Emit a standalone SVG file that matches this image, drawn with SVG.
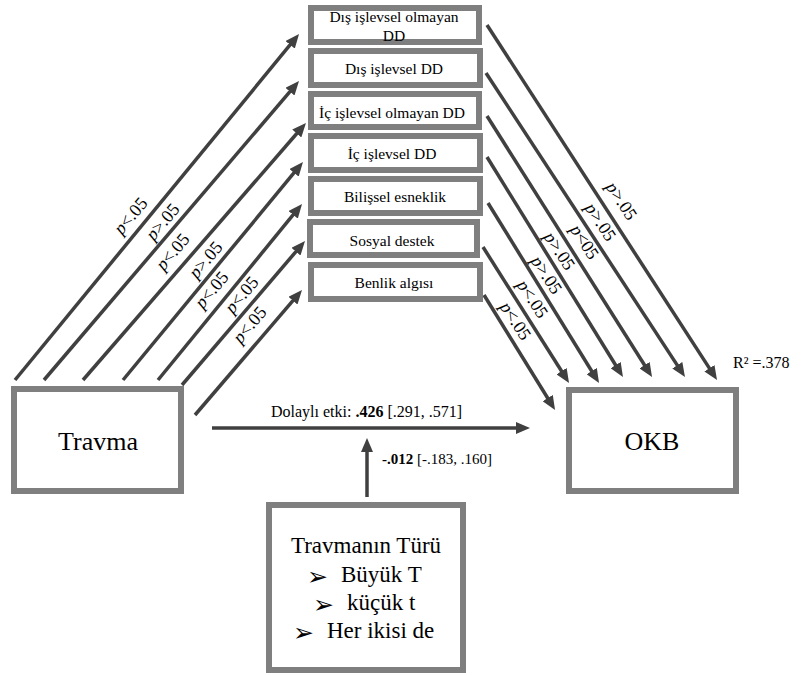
<svg xmlns="http://www.w3.org/2000/svg" width="801" height="675" viewBox="0 0 801 675">
<style>
.box{fill:#fff;stroke:#7f7f7f;stroke-width:6}
.ln{stroke:#404040;stroke-width:3.5;fill:none;marker-end:url(#ah)}
.t{font-family:"Liberation Serif","Times New Roman",serif;fill:#000}
.m{font-size:15.5px;text-anchor:middle}
.lab{font-size:18px;text-anchor:middle}
.big{font-size:26px;text-anchor:middle}
.b{font-weight:bold}
.bul{font-family:"DejaVu Sans",sans-serif;font-size:25px;fill:#000}
</style>
<defs>
<marker id="ah" markerUnits="userSpaceOnUse" markerWidth="14" markerHeight="12" refX="4" refY="6" orient="auto">
<path d="M0,0 L14,6 L0,12 z" fill="#404040"/>
</marker>
</defs>
<rect width="801" height="675" fill="#fff"/>

<g id="connectors">
<line class="ln" x1="15" y1="380" x2="292.7" y2="41.7"/>
<line class="ln" x1="44" y1="380" x2="292.5" y2="88.6"/>
<line class="ln" x1="83" y1="380" x2="299.4" y2="130.5"/>
<line class="ln" x1="123" y1="380" x2="296.6" y2="169.7"/>
<line class="ln" x1="158" y1="380" x2="295.7" y2="211.7"/>
<line class="ln" x1="182" y1="385" x2="298.5" y2="248.6"/>
<line class="ln" x1="195" y1="415" x2="295.5" y2="297.6"/>

<line class="ln" x1="487" y1="25" x2="711.6" y2="371.6"/>
<line class="ln" x1="486" y1="73" x2="679.5" y2="368.6"/>
<line class="ln" x1="487" y1="116" x2="646.7" y2="368.5"/>
<line class="ln" x1="487" y1="157" x2="617.7" y2="368.5"/>
<line class="ln" x1="488" y1="203" x2="593.8" y2="374.5"/>
<line class="ln" x1="483" y1="247" x2="563.7" y2="374.5"/>
<line class="ln" x1="484" y1="295" x2="549.8" y2="401.5"/>

<line class="ln" x1="212" y1="428" x2="520" y2="428"/>
<line class="ln" x1="367" y1="497" x2="367" y2="448"/>

<g class="t lab">
<text transform="translate(132,217) rotate(-50)" y="4"><tspan font-style="italic">p</tspan>&lt;.05</text>
<text transform="translate(164,223) rotate(-50)" y="4"><tspan font-style="italic">p</tspan>&gt;.05</text>
<text transform="translate(174,253) rotate(-50)" y="4"><tspan font-style="italic">p</tspan>&lt;.05</text>
<text transform="translate(207,261) rotate(-50)" y="4"><tspan font-style="italic">p</tspan>&gt;.05</text>
<text transform="translate(213,291) rotate(-50)" y="4"><tspan font-style="italic">p</tspan>&lt;.05</text>
<text transform="translate(243,296) rotate(-50)" y="4"><tspan font-style="italic">p</tspan>&lt;.05</text>
<text transform="translate(251,326) rotate(-50)" y="4"><tspan font-style="italic">p</tspan>&lt;.05</text>

<text transform="translate(620,202) rotate(57)" y="4"><tspan font-style="italic">p</tspan>&gt;.05</text>
<text transform="translate(599,223) rotate(57)" y="4"><tspan font-style="italic">p</tspan>&gt;.05</text>
<text transform="translate(583,243) rotate(57)" y="4"><tspan font-style="italic">p</tspan>&lt;05</text>
<text transform="translate(558,252) rotate(57)" y="4"><tspan font-style="italic">p</tspan>&gt;.05</text>
<text transform="translate(545,276) rotate(57)" y="4"><tspan font-style="italic">p</tspan>&gt;.05</text>
<text transform="translate(531,300) rotate(57)" y="4"><tspan font-style="italic">p</tspan>&lt;.05</text>
<text transform="translate(514,322) rotate(57)" y="4"><tspan font-style="italic">p</tspan>&lt;.05</text>
</g>

<text class="t" x="271" y="417" font-size="16">Dolaylı etki: <tspan class="b">.426</tspan> [.291, .571]</text>
<text class="t" x="382" y="464" font-size="15"><tspan class="b">-.012</tspan> [-.183, .160]</text>
<text class="t" x="733" y="368" font-size="16">R² =.378</text>
</g>

<g id="m1">
<rect class="box" x="311" y="8" width="168" height="34"/>
<text class="t m" x="394" y="22">Dış işlevsel olmayan</text>
<text class="t m" x="394" y="40.5">DD</text>
</g>
<g id="m2">
<rect class="box" x="311" y="51" width="169" height="34"/>
<text class="t m" x="394" y="74">Dış işlevsel DD</text>
</g>
<g id="m3">
<rect class="box" x="311" y="94" width="168" height="33"/>
<text class="t m" x="392" y="118">İç işlevsel olmayan DD</text>
</g>
<g id="m4">
<rect class="box" x="311" y="136" width="169" height="34"/>
<text class="t m" x="392" y="159">İç işlevsel DD</text>
</g>
<g id="m5">
<rect class="box" x="311" y="179" width="169" height="34"/>
<text class="t m" x="395" y="202">Bilişsel esneklik</text>
</g>
<g id="m6">
<rect class="box" x="310" y="222" width="167" height="33"/>
<text class="t m" x="392" y="246">Sosyal destek</text>
</g>
<g id="m7">
<rect class="box" x="311" y="265" width="169" height="34"/>
<text class="t m" x="394" y="288">Benlik algısı</text>
</g>

<g id="travma">
<rect class="box" x="14" y="389" width="167" height="102"/>
<text class="t big" x="98" y="450">Travma</text>
</g>
<g id="okb">
<rect class="box" x="569" y="390" width="167" height="101"/>
<text class="t big" x="652" y="450">OKB</text>
</g>
<g id="tur">
<rect class="box" x="269" y="505" width="194" height="165"/>
<text class="t" x="366" y="553" font-size="23" text-anchor="middle">Travmanın Türü</text>
<text class="bul" x="307" y="585">➢</text>
<text class="t" x="341" y="582" font-size="23">Büyük T</text>
<text class="bul" x="313" y="613">➢</text>
<text class="t" x="347" y="610" font-size="23">küçük t</text>
<text class="bul" x="293" y="641">➢</text>
<text class="t" x="327" y="638" font-size="23">Her ikisi de</text>
</g>
</svg>
